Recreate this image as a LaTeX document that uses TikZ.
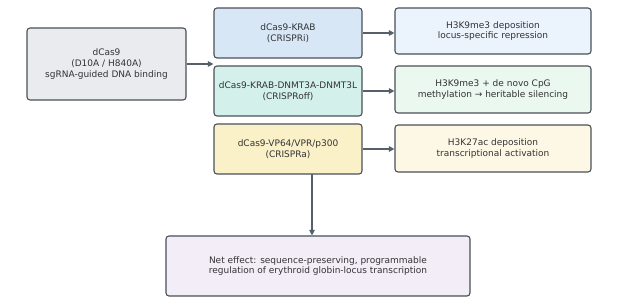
\documentclass[tikz,border=0pt]{standalone}
\usepackage{fontspec}
\setmainfont{DejaVu Sans}
\usetikzlibrary{arrows.meta}
\definecolor{edge}{HTML}{4A5058}
\definecolor{arrc}{HTML}{56606A}
\definecolor{txt}{HTML}{333333}
\definecolor{cgray}{HTML}{E9EBEE}
\definecolor{cblue}{HTML}{D7E7F6}
\definecolor{cmint}{HTML}{D3F1EA}
\definecolor{cyel}{HTML}{FBF1C9}
\definecolor{rblue}{HTML}{EBF3FC}
\definecolor{rgreen}{HTML}{EBF8EF}
\definecolor{ryel}{HTML}{FDF8E6}
\definecolor{lav}{HTML}{F3EDF8}
\tikzset{
  box/.style={draw=edge, line width=1.1pt, rounded corners=3pt, align=center,
    text=txt, font=\fontsize{9}{10.8}\selectfont, inner sep=0pt},
  arr/.style={draw=arrc, line width=1.1pt, -{Triangle[length=5.5pt,width=5.5pt]}}
}
\begin{document}
\begin{tikzpicture}[x=1pt,y=-1pt]
\useasboundingbox (0,0) rectangle (624,304);
\node[box, fill=cgray, minimum width=159pt, minimum height=72pt] (dcas) at (106.5,64) {dCas9\\(D10A / H840A)\\sgRNA-guided DNA binding};
\node[box, fill=cblue, minimum width=148pt, minimum height=50pt] (krab) at (288,33) {dCas9-KRAB\\(CRISPRi)};
\node[box, fill=cmint, minimum width=148pt, minimum height=50pt] (off) at (288,91) {dCas9-KRAB-DNMT3A-DNMT3L\\(CRISPRoff)};
\node[box, fill=cyel, minimum width=148pt, minimum height=50pt] (act) at (288,149) {dCas9-VP64/VPR/p300\\(CRISPRa)};
\node[box, fill=rblue, minimum width=196pt, minimum height=46pt] (r1) at (493,31) {H3K9me3 deposition\\locus-specific repression};
\node[box, fill=rgreen, minimum width=196pt, minimum height=47pt] (r2) at (493,89.5) {H3K9me3 + de novo CpG\\methylation → heritable silencing};
\node[box, fill=ryel, minimum width=196pt, minimum height=47pt] (r3) at (493,148.5) {H3K27ac deposition\\transcriptional activation};
\node[box, fill=lav, minimum width=304pt, minimum height=60pt] (net) at (318,266) {Net effect: sequence-preserving, programmable\\regulation of erythroid globin-locus transcription};
\coordinate (ds) at (312,174);
\draw[arr] (dcas.east) -- (dcas.east -| off.west);
\draw[arr] (krab.east) -- (krab.east -| r1.west);
\draw[arr] (off.east) -- (off.east -| r2.west);
\draw[arr] (act.east) -- (act.east -| r3.west);
\draw[arr] (ds) -- (ds |- net.north);
\end{tikzpicture}
\end{document}
